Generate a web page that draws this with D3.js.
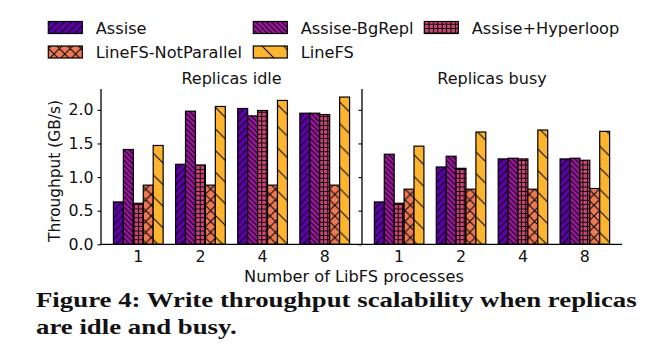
<!DOCTYPE html>
<html>
<head>
  <meta charset="UTF-8">
  <title>Write throughput scalability</title>
  <script src="https://d3js.org/d3.v7.min.js"></script>
  <style>
    body { margin: 0; background: #fff; }
    svg text { font-family: 'DejaVu Sans', sans-serif; fill: #111; }
    .caption { font-family: 'Liberation Serif', serif !important; font-weight: bold; }
  </style>
</head>
<body>
  <svg id="chart" width="657" height="354"></svg>
  <script>
    // data
    const processes = ["1", "2", "4", "8"];
    const panels = ["Replicas idle", "Replicas busy"];
    const series = ["Assise", "Assise-BgRepl", "Assise+Hyperloop", "LineFS-NotParallel", "LineFS"];
    const yTicks = [0, 0.5, 1.0, 1.5, 2.0];

    // throughput (GB/s) per series, one array per panel
    const assiseIdle      = [0.63, 1.19, 2.02, 1.95];
    const bgReplIdle      = [1.41, 1.98, 1.91, 1.95];
    const hyperloopIdle   = [0.61, 1.18, 1.99, 1.93];
    const notParallelIdle = [0.88, 0.88, 0.88, 0.88];
    const lineFSIdle      = [1.47, 2.05, 2.14, 2.19];

    const assiseBusy      = [0.63, 1.15, 1.27, 1.27];
    const bgReplBusy      = [1.34, 1.31, 1.28, 1.28];
    const hyperloopBusy   = [0.61, 1.13, 1.27, 1.25];
    const notParallelBusy = [0.82, 0.82, 0.82, 0.83];
    const lineFSBusy      = [1.46, 1.67, 1.70, 1.68];

    const panelData = [
      [assiseIdle, bgReplIdle, hyperloopIdle, notParallelIdle, lineFSIdle],
      [assiseBusy, bgReplBusy, hyperloopBusy, notParallelBusy, lineFSBusy]
    ];

    const colors = ["#5c01a6", "#9c179e", "#cc4778", "#ed7953", "#fdb42f"];
    const hatchKind = ["fwd", "back", "grid", "cross", "back"];
    const hatchStep = [7.2, 5.2, 4.4, 10.8, 21.6];

    const svg = d3.select("#chart");
    const defs = svg.append("defs");

    // hatch patterns, anchored to the page like matplotlib does
    series.forEach((s, i) => {
      const st = hatchStep[i];
      const p = defs.append("pattern")
        .attr("id", "hatch" + i)
        .attr("patternUnits", "userSpaceOnUse")
        .attr("width", st).attr("height", st);
      p.append("rect").attr("width", st).attr("height", st).attr("fill", colors[i]);
      let d;
      if (hatchKind[i] === "fwd") {
        d = `M0,${st} L${st},0 M-1,1 L1,-1 M${st - 1},${st + 1} L${st + 1},${st - 1}`;
      } else if (hatchKind[i] === "back") {
        d = `M0,0 L${st},${st} M-1,${st - 1} L1,${st + 1} M${st - 1},-1 L${st + 1},1`;
      } else if (hatchKind[i] === "grid") {
        d = `M0,${st / 2} H${st} M${st / 2},0 V${st}`;
      } else {
        d = `M0,${st} L${st},0 M-1,1 L1,-1 M${st - 1},${st + 1} L${st + 1},${st - 1}` +
            ` M0,0 L${st},${st} M-1,${st - 1} L1,${st + 1} M${st - 1},-1 L${st + 1},1`;
      }
      p.append("path").attr("d", d).attr("stroke", "#000").attr("stroke-width", 1).attr("fill", "none");
    });

    const y = d3.scaleLinear().domain([0, 2.31]).range([244.3, 89]);
    const panelRanges = [[101, 362], [362, 622]];

    panels.forEach((title, p) => {
      const x0 = d3.scaleBand().domain(processes).range(panelRanges[p])
        .paddingInner(0.2).paddingOuter(0.2);
      const x1 = d3.scaleBand().domain(series).range([0, x0.bandwidth()]);
      const g = svg.append("g");

      // bars
      panelData[p].forEach((vals, si) => {
        g.selectAll(null)
          .data(vals)
          .enter()
          .append("rect")
          .attr("x", (d, k) => x0(processes[k]) + x1(series[si]))
          .attr("y", d => y(d))
          .attr("width", x1.bandwidth())
          .attr("height", d => y(0) - y(d))
          .attr("fill", `url(#hatch${si})`)
          .attr("stroke", "#000")
          .attr("stroke-width", 1.2);
      });

      // y axis
      const yAxis = d3.axisLeft(y).tickValues(yTicks).tickSize(3.5).tickPadding(4)
        .tickFormat(p === 0 ? d3.format(".1f") : "");
      const ya = g.append("g").attr("transform", `translate(${panelRanges[p][0]},0)`).call(yAxis);
      ya.select(".domain").remove();
      ya.selectAll(".tick line").attr("stroke", "#000").attr("stroke-width", 1.1);
      ya.selectAll("text").style("font-size", "15.8px").attr("fill", "#111");

      // x axis labels, no tick marks
      const xa = g.append("g").attr("transform", `translate(0,${y(0)})`)
        .call(d3.axisBottom(x0).tickSize(0).tickPadding(6.5));
      xa.select(".domain").remove();
      xa.selectAll("text").style("font-size", "15.8px").attr("fill", "#111");

      // spines: left and bottom
      g.append("line")
        .attr("x1", panelRanges[p][0]).attr("x2", panelRanges[p][0])
        .attr("y1", y.range()[1]).attr("y2", y(0))
        .attr("stroke", "#000").attr("stroke-width", 1.3);
      g.append("line")
        .attr("x1", panelRanges[p][0]).attr("x2", panelRanges[p][1])
        .attr("y1", y(0)).attr("y2", y(0))
        .attr("stroke", "#000").attr("stroke-width", 1.3);

      // panel title
      g.append("text")
        .attr("x", (panelRanges[p][0] + panelRanges[p][1]) / 2)
        .attr("y", 84)
        .attr("text-anchor", "middle")
        .style("font-size", "16px")
        .text(title);
    });

    // y axis title
    svg.append("text")
      .attr("transform", "translate(60,171) rotate(-90)")
      .attr("text-anchor", "middle")
      .style("font-size", "15.4px")
      .text("Throughput (GB/s)");

    // x axis title
    svg.append("text")
      .attr("x", 354).attr("y", 281.5)
      .attr("text-anchor", "middle")
      .style("font-size", "16.2px")
      .text("Number of LibFS processes");

    // legend, three columns
    const legCols = [48.3, 253.3, 424.3];
    const legRows = [27.5, 52];
    series.forEach((s, i) => {
      const lx = legCols[i % 3], ly = legRows[Math.floor(i / 3)];
      svg.append("rect")
        .attr("x", lx).attr("y", ly - 6)
        .attr("width", 34).attr("height", 12)
        .attr("fill", `url(#hatch${i})`)
        .attr("stroke", "#000").attr("stroke-width", 1.2);
      svg.append("text")
        .attr("x", lx + 47.4).attr("y", ly + 6)
        .style("font-size", "16.2px")
        .text(s);
    });

    // caption
    const cap = svg.append("g");
    const line1 = cap.append("text").attr("class", "caption")
      .attr("x", 0).attr("y", 307).style("font-size", "22px")
      .text("Figure 4: Write throughput scalability when replicas");
    cap.append("text").attr("class", "caption")
      .attr("x", 0).attr("y", 334).style("font-size", "22px")
      .text("are idle and busy.");
    const w = line1.node().getComputedTextLength();
    cap.attr("transform", `translate(36,0) scale(${601 / w},1)`);
  </script>
</body>
</html>
